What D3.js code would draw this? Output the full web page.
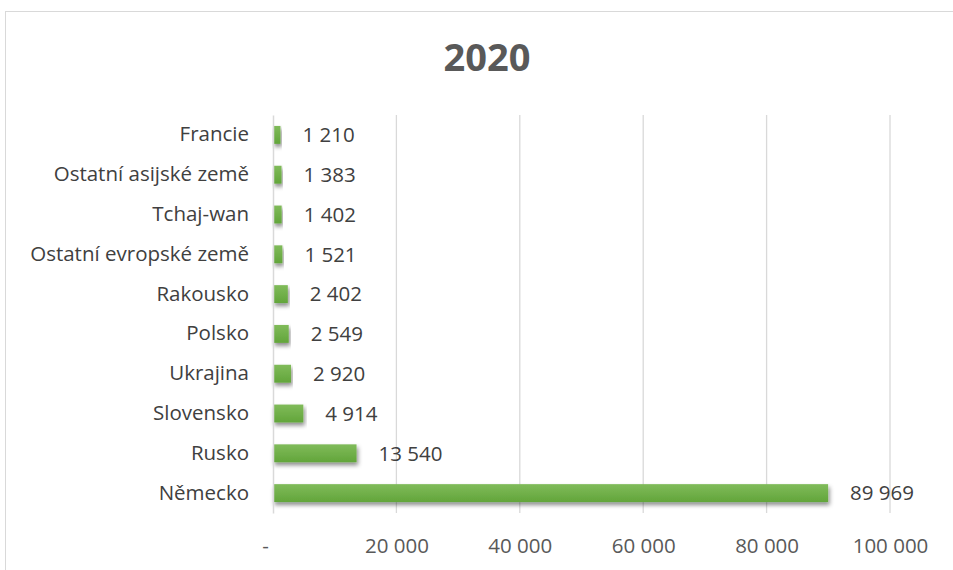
<!DOCTYPE html>
<html>
<head>
<meta charset="utf-8">
<script src="https://cdn.jsdelivr.net/npm/d3@7"></script>
<style>
  body { margin: 0; background: #fff; }
  text { font-family: "Open Sans", "Noto Sans", sans-serif; }
</style>
</head>
<body>
<div id="chart"></div>
<script>
// categories from top to bottom, as in the chart
const countries = ["Francie", "Ostatní asijské země", "Tchaj-wan", "Ostatní evropské země",
    "Rakousko", "Polsko", "Ukrajina", "Slovensko", "Rusko", "Německo"];
const values = [1210, 1383, 1402, 1521, 2402, 2549, 2920, 4914, 13540, 89969];
const tickValues = [0, 20000, 40000, 60000, 80000, 100000];
const title = "2020";

let width = 953, height = 570;
let margin = { top: 115, right: 63, bottom: 57, left: 273 };
let innerW = width - margin.left - margin.right,
    innerH = height - margin.top - margin.bottom;
let fontSize = '20.5px';

// format with space as thousands separator, zero shown as "-"
let fmt = function (d) {
    if (d === 0) return '-';
    return d3.format(',')(d).replace(/,/g, ' ');
};

let xScale = d3.scaleLinear().domain([0, 100000]).range([0, innerW]);
let yScale = d3.scaleBand().domain(countries).range([0, innerH]).paddingInner(0.55).paddingOuter(0.275);

let svg = d3.select('#chart').append('svg')
    .attr('width', width)
    .attr('height', height);

let defs = svg.append('defs');
let grad = defs.append('linearGradient')
    .attr('id', 'barGrad')
    .attr('x1', 0).attr('y1', 0).attr('x2', 0).attr('y2', 1);
grad.append('stop').attr('offset', '0%').attr('stop-color', '#80bb5a');
grad.append('stop').attr('offset', '100%').attr('stop-color', '#62a53a');

let shadow = defs.append('filter')
    .attr('id', 'shadow')
    .attr('x', '-10%').attr('y', '-30%').attr('width', '120%').attr('height', '190%');
shadow.append('feDropShadow')
    .attr('dx', 1.5).attr('dy', 3).attr('stdDeviation', 2.2)
    .attr('flood-color', '#000').attr('flood-opacity', 0.45);

// chart frame
svg.append('rect')
    .attr('x', 5.5).attr('y', 11.5)
    .attr('width', 960).attr('height', 580)
    .attr('fill', 'none').attr('stroke', '#d9d9d9');

svg.append('text')
    .attr('x', 487).attr('y', 71)
    .attr('text-anchor', 'middle')
    .style('font-size', '38px')
    .style('font-weight', 'bold')
    .style('fill', '#595959')
    .text(title);

let main = svg.append('g')
    .attr('transform', 'translate(' + margin.left + ',' + margin.top + ')');

// vertical grid lines
main.append('g')
    .selectAll('line')
    .data(tickValues.slice(1))
    .enter().append('line')
    .attr('x1', function (d) { return xScale(d); })
    .attr('x2', function (d) { return xScale(d); })
    .attr('y1', 0).attr('y2', innerH)
    .attr('stroke', '#d9d9d9').attr('stroke-width', 1.3);

// x axis labels
let xAxis = d3.axisBottom(xScale)
    .tickValues(tickValues)
    .tickFormat(fmt)
    .tickSize(0)
    .tickPadding(25);

let gx = main.append('g')
    .attr('transform', 'translate(0,' + innerH + ')')
    .call(xAxis);
gx.select('.domain').remove();
gx.selectAll('text')
    .style('font-size', fontSize)
    .style('fill', '#595959')
    .attr('font-family', null);
gx.selectAll('text').filter(function (d) { return d === 0; })
    .attr('dx', -8);

// bars
main.append('g')
    .selectAll('rect')
    .data(values)
    .enter().append('rect')
    .attr('x', 0)
    .attr('y', function (d, i) { return yScale(countries[i]); })
    .attr('width', function (d) { return xScale(d); })
    .attr('height', yScale.bandwidth())
    .attr('fill', 'url(#barGrad)')
    .attr('filter', 'url(#shadow)');

// y axis line + category labels
let yAxis = d3.axisLeft(yScale)
    .tickSize(0)
    .tickPadding(24);
let gy = main.append('g').call(yAxis);
gy.select('.domain').attr('stroke', '#d9d9d9').attr('stroke-width', 1.5);
gy.selectAll('text')
    .style('font-size', fontSize)
    .style('fill', '#404040')
    .attr('font-family', null);

// value labels
main.append('g')
    .selectAll('text')
    .data(values)
    .enter().append('text')
    .attr('x', function (d) { return xScale(d) + 22; })
    .attr('y', function (d, i) { return yScale(countries[i]) + yScale.bandwidth() / 2; })
    .attr('dy', '0.36em')
    .style('font-size', fontSize)
    .style('fill', '#404040')
    .text(fmt);
</script>
</body>
</html>
